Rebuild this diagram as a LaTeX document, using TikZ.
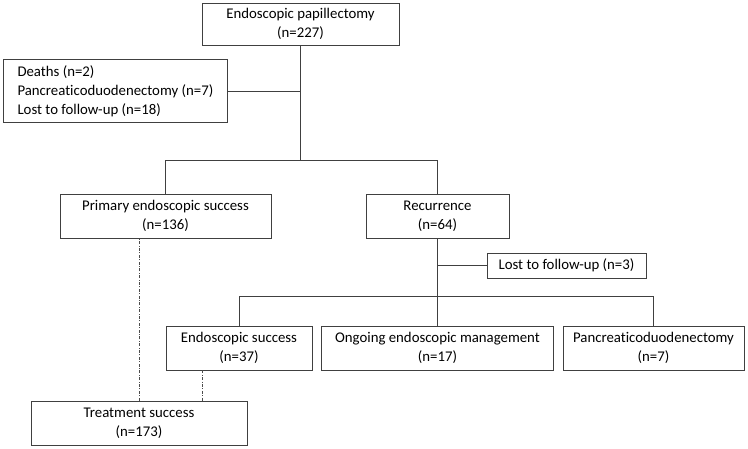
\documentclass[tikz,border=0pt]{standalone}
\usepackage{fontspec}
\setmainfont[Ligatures=NoCommon]{Carlito}

\tikzset{
  flowbox/.style={draw=black!75, line width=0.8pt, align=center, inner sep=2pt,
    minimum height=44pt, font=\fontsize{14.8}{19}\selectfont},
  link/.style={draw=black!75, line width=0.8pt},
  dotlink/.style={draw=black!70, line width=0.6pt, dash pattern=on 3pt off 1.5pt on 0.8pt off 1.5pt}
}

\begin{document}
\begin{tikzpicture}[x=1pt, y=-1pt]
  \useasboundingbox (0,0) rectangle (748,449);

  % top level
  \node[flowbox, minimum width=197pt, minimum height=42pt] (papil) at (300.5, 24)
    {Endoscopic papillectomy\\(n=227)};
  \node[flowbox, minimum width=224pt, minimum height=62pt, align=left,
        anchor=west, inner sep=6pt] (excl) at (3, 91)
    {Deaths (n=2)\\Pancreaticoduodenectomy (n=7)\\Lost to follow-up (n=18)};

  % second level
  \node[flowbox, minimum width=211pt] (primary) at (165.5, 216)
    {Primary endoscopic success\\(n=136)};
  \node[flowbox, minimum width=143pt] (recur) at (437.5, 216)
    {Recurrence\\(n=64)};
  \node[flowbox, minimum width=159pt, minimum height=25pt] (lost) at (566.5, 265.5)
    {Lost to follow-up (n=3)};

  % outcomes of recurrence
  \node[flowbox, minimum width=146pt] (endo) at (239, 348)
    {Endoscopic success\\(n=37)};
  \node[flowbox, minimum width=232pt] (ongoing) at (437.5, 348)
    {Ongoing endoscopic management\\(n=17)};
  \node[flowbox, minimum width=181pt] (pancreat) at (653.5, 348)
    {Pancreaticoduodenectomy\\(n=7)};

  % final
  \node[flowbox, minimum width=216pt] (treat) at (139, 423)
    {Treatment success\\(n=173)};

  % connectors
  \coordinate (split1) at (papil.south |- 0, 160);
  \coordinate (split2) at (recur.south |- 0, 296);
  \draw[link] (papil.south) -- (split1);
  \draw[link] (excl.east) -- (excl.east -| papil.south);
  \draw[link] (primary.north) -- (primary.north |- split1) -- (recur.north |- split1) -- (recur.north);
  \draw[link] (recur.south) -- (ongoing.north);
  \draw[link] (lost.west) -- (lost.west -| recur.south);
  \draw[link] (endo.north) -- (endo.north |- split2) -- (pancreat.north |- split2) -- (pancreat.north);

  % treatment success
  \draw[dotlink] (treat.north) -- (treat.north |- primary.south);
  \draw[dotlink] ([xshift=-37pt]endo.south) -- ([xshift=-37pt]endo.south |- treat.north);
\end{tikzpicture}
\end{document}
